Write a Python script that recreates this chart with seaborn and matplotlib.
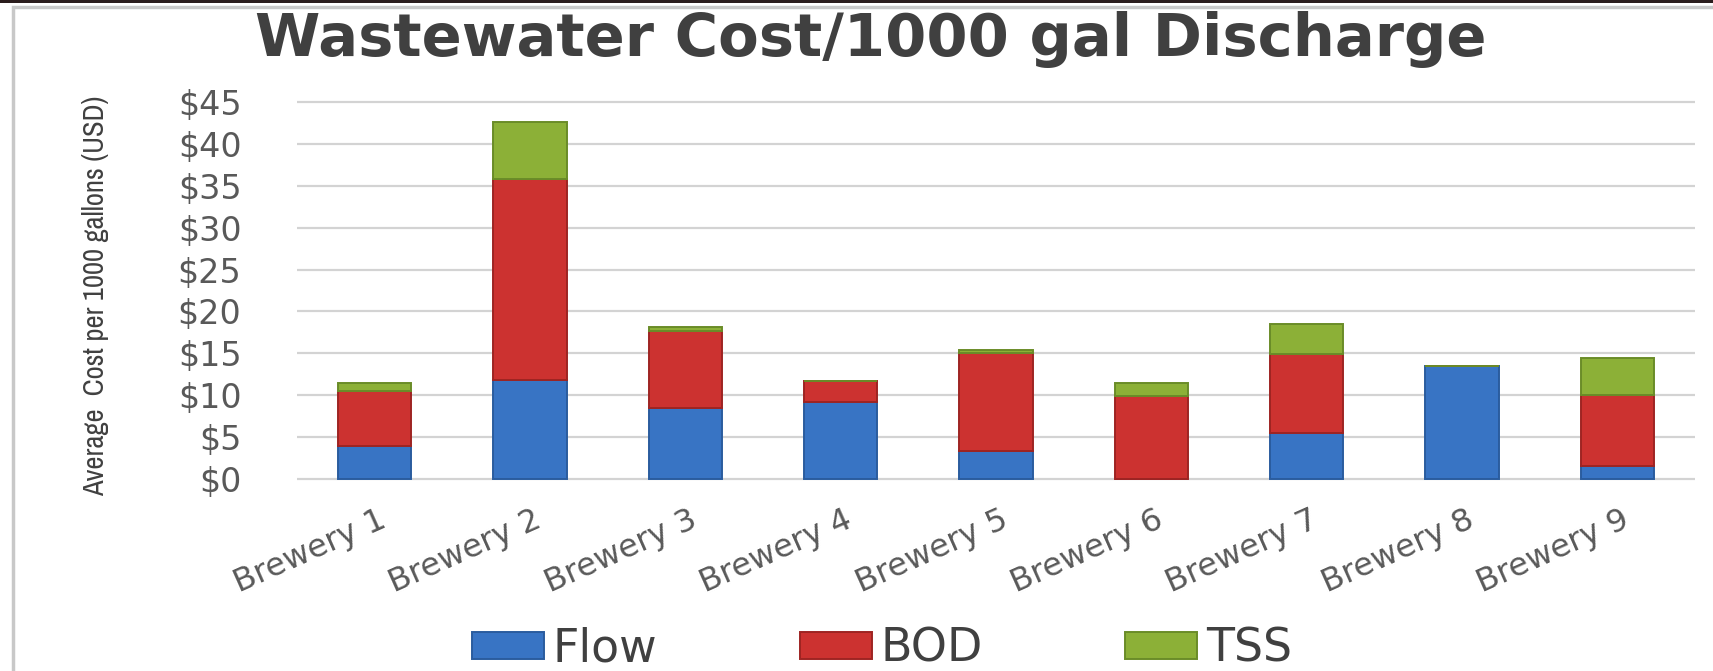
import numpy as np
import pandas as pd
import matplotlib
matplotlib.use("Agg")
import matplotlib.pyplot as plt
import seaborn as sns
from matplotlib import font_manager
from matplotlib.patches import Patch, Rectangle
from matplotlib.ticker import FuncFormatter
from matplotlib.transforms import ScaledTranslation

# ---------------- data ----------------
categories = ["Brewery 1", "Brewery 2", "Brewery 3", "Brewery 4", "Brewery 5",
              "Brewery 6", "Brewery 7", "Brewery 8", "Brewery 9"]
flow = [3.9, 11.8, 8.5, 9.2, 3.4, 0.0, 5.5, 13.5, 1.5]
bod = [6.6, 24.0, 9.2, 2.5, 11.6, 9.9, 9.4, 0.0, 8.5]
tss = [1.0, 6.8, 0.5, 0.0, 0.4, 1.6, 3.6, 0.0, 4.4]
series_names = ["Flow", "BOD", "TSS"]
y_ticks = [0, 5, 10, 15, 20, 25, 30, 35, 40, 45]
title_text = "Wastewater Cost/1000 gal Discharge"
y_label = "Average  Cost per 1000 gallons (USD)"

# ---------------- style ----------------
sns.set_theme(style="white")
plt.rcParams["font.family"] = ["DejaVu Sans"]

# find an upright condensed / narrow face for the y-axis title if one is installed
narrow_prop = None
candidates = []
for f in font_manager.fontManager.ttflist:
    n = f.name.lower()
    is_narrow = ("narrow" in n or "condensed" in n or
                 str(f.stretch) in ("condensed", "semi-condensed", "extra-condensed"))
    if is_narrow and f.style == "normal" and f.weight in (400, "normal", "regular", "book"):
        fn = f.fname.lower()
        if "bold" in fn or "oblique" in fn or "italic" in fn:
            continue
        candidates.append(f)
if candidates:
    candidates.sort(key=lambda f: (0 if "narrow" in f.name.lower() else 1))
    narrow_prop = font_manager.FontProperties(fname=candidates[0].fname)
else:
    narrow_prop = font_manager.FontProperties(family="Liberation Sans")

colors = ["#3874c4", "#cc3230", "#8cb037"]
edges = ["#2a5c9e", "#9e2422", "#6a8c28"]

W, H = 1713, 671
fig = plt.figure(figsize=(W / 100, H / 100), dpi=100)
fig.patch.set_facecolor("white")

def fx(x):
    return x / W

def fy(y):
    return 1 - y / H

# axes placement (pixel based)
y_top, y_bot = 99.5, 480.7
ax = fig.add_axes([fx(297), fy(y_bot), (1695 - 297) / W, (y_bot - y_top) / H])
ax.set_facecolor("white")

df = pd.DataFrame({"Brewery": categories, "Flow": flow, "BOD": bod, "TSS": tss})
bottom = np.zeros(len(categories))
for name, c, e in zip(series_names, colors, edges):
    sns.barplot(data=df, x="Brewery", y=name, bottom=bottom.copy(), color=c,
                saturation=1, width=0.47, edgecolor=e, linewidth=1.4, ax=ax,
                zorder=3)
    bottom = bottom + df[name].to_numpy()

ax.set_xlim(-0.5, len(categories) - 0.5)
ax.set_ylim(-0.2, 45.3)
ax.set_yticks(y_ticks)
ax.yaxis.set_major_formatter(FuncFormatter(lambda v, p: f"${v:.0f}"))
ax.set_xlabel("")
ax.set_ylabel("")
for s in ax.spines.values():
    s.set_visible(False)
ax.yaxis.grid(True, color="#d3d3d3", linewidth=1.6, zorder=0)
ax.xaxis.grid(False)
ax.set_axisbelow(True)

ax.tick_params(axis="y", length=0, pad=40, labelsize=24, labelcolor="#595959")
ax.tick_params(axis="x", length=0, pad=27, labelsize=23, labelcolor="#595959")
offset = ScaledTranslation(10 / 100, 0, fig.dpi_scale_trans)
for lab in ax.get_xticklabels():
    lab.set_rotation(24)
    lab.set_ha("right")
    lab.set_va("center")
    lab.set_rotation_mode("anchor")
    lab.set_transform(lab.get_transform() + offset)

# title & y label
title = fig.text(fx(871), fy(56), title_text, ha="center", va="baseline",
                 fontweight="bold", color="#404040", fontsize=40)
ylab = fig.text(fx(96), fy(296), y_label, ha="center", va="center",
                rotation=90, color="#404040", fontproperties=narrow_prop)
ylab.set_fontsize(18)

# legend
fig.legend(
    [Patch(facecolor=c, edgecolor=e, linewidth=1.4) for c, e in zip(colors, edges)],
    series_names, loc="center", bbox_to_anchor=(fx(882), fy(649)),
    ncol=3, frameon=False, fontsize=33, handlelength=1.57, handleheight=0.52,
    handletextpad=0.2, columnspacing=3.1, labelcolor="#404040",
    borderpad=0, borderaxespad=0)

# decorative frame
fig.patches.append(Rectangle((fx(13), -0.05), (W + 10 - 13) / W, fy(7) + 0.05,
                             transform=fig.transFigure, fill=False,
                             edgecolor="#c8c8c8", linewidth=2.5, zorder=0))
fig.patches.append(Rectangle((0, fy(3)), 1, 3 / H, transform=fig.transFigure,
                             facecolor="#2a1c1c", edgecolor="none", zorder=1))

# fit text sizes to the reference extents
fig.canvas.draw()
r = fig.canvas.get_renderer()
bb = title.get_window_extent(renderer=r)
title.set_fontsize(title.get_fontsize() * 1230 / bb.width)
bb = ylab.get_window_extent(renderer=r)
ylab.set_fontsize(ylab.get_fontsize() * 400 / bb.height)

fig.savefig("out.png", dpi=100, facecolor="white")
